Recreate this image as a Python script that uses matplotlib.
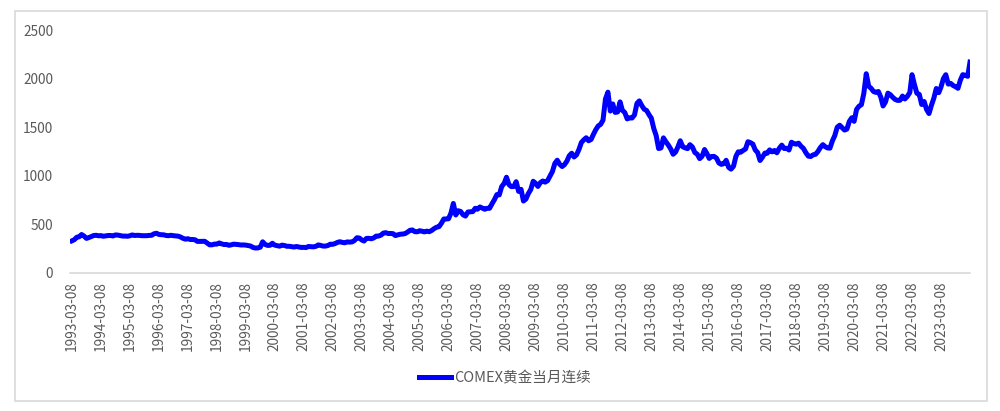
import pandas as pd
import matplotlib.pyplot as plt
import matplotlib.dates as mdates
from matplotlib.patches import Rectangle

plt.rcParams['font.family'] = ['Noto Sans CJK SC', 'DejaVu Sans']

SERIES_NAME = "COMEX黄金当月连续"
START = "1993-03-08"

# monthly COMEX gold, USD/oz (one value per month from 1993-03)
gold_1993 = [330, 342, 367, 372, 395, 379, 355, 364, 374, 385]
gold_1994 = [387, 382, 384, 377, 381, 385, 385, 380, 391, 389, 384, 379]
gold_1995 = [379, 377, 382, 391, 385, 387, 386, 383, 383, 383, 386, 387]
gold_1996 = [403, 408, 396, 393, 392, 385, 383, 387, 383, 381, 378, 369]
gold_1997 = [355, 347, 352, 344, 344, 341, 324, 324, 323, 325, 306, 289]
gold_1998 = [289, 297, 296, 308, 299, 292, 293, 284, 289, 296, 294, 291]
gold_1999 = [287, 288, 286, 282, 277, 262, 256, 257, 265, 320, 293, 283]
gold_2000 = [284, 305, 286, 280, 275, 286, 282, 274, 274, 270, 266, 272]
gold_2001 = [266, 262, 263, 261, 272, 270, 268, 273, 288, 283, 276, 276]
gold_2002 = [282, 296, 294, 302, 314, 321, 314, 310, 319, 317, 319, 333]
gold_2003 = [362, 359, 340, 328, 355, 356, 351, 360, 379, 379, 389, 410]
gold_2004 = [414, 405, 406, 404, 384, 392, 398, 400, 405, 420, 439, 442]
gold_2005 = [424, 423, 434, 429, 422, 430, 424, 437, 456, 470, 476, 510]
gold_2006 = [555, 555, 557, 615, 715, 596, 640, 632, 598, 585, 627, 629]
gold_2007 = [631, 665, 655, 679, 667, 655, 665, 665, 712, 754, 806, 803]
gold_2008 = [889, 922, 985, 909, 888, 889, 939, 839, 860, 740, 760, 816]
gold_2009 = [858, 943, 924, 890, 928, 946, 934, 949, 996, 1043, 1127, 1160]
gold_2010 = [1118, 1095, 1113, 1149, 1205, 1232, 1193, 1215, 1271, 1342, 1370, 1391]
gold_2011 = [1360, 1374, 1424, 1474, 1512, 1529, 1572, 1790, 1860, 1666, 1739, 1652]
gold_2012 = [1656, 1760, 1674, 1650, 1585, 1596, 1594, 1626, 1745, 1770, 1722, 1685]
gold_2013 = [1671, 1627, 1593, 1487, 1414, 1280, 1286, 1390, 1349, 1316, 1275, 1221]
gold_2014 = [1244, 1300, 1360, 1299, 1287, 1279, 1320, 1296, 1239, 1222, 1176, 1200]
gold_2015 = [1270, 1227, 1178, 1198, 1199, 1181, 1131, 1117, 1125, 1159, 1086, 1068]
gold_2016 = [1097, 1200, 1246, 1242, 1260, 1276, 1350, 1341, 1326, 1266, 1238, 1157]
gold_2017 = [1192, 1234, 1231, 1266, 1246, 1260, 1236, 1283, 1315, 1280, 1283, 1265]
gold_2018 = [1345, 1331, 1325, 1335, 1304, 1281, 1238, 1202, 1198, 1215, 1221, 1250]
gold_2019 = [1291, 1320, 1300, 1286, 1284, 1359, 1413, 1500, 1520, 1495, 1470, 1480]
gold_2020 = [1560, 1597, 1560, 1683, 1715, 1732, 1846, 2050, 1921, 1900, 1866, 1858]
gold_2021 = [1867, 1808, 1718, 1760, 1850, 1834, 1807, 1785, 1775, 1777, 1820, 1790]
gold_2022 = [1817, 1856, 2040, 1937, 1849, 1837, 1733, 1764, 1681, 1640, 1726, 1798]
gold_2023 = [1898, 1855, 1913, 2000, 2040, 1943, 1951, 1929, 1916, 1900, 1985, 2040]
gold_2024 = [2034, 2023, 2170]


def main():
    prices = (gold_1993 + gold_1994 + gold_1995 + gold_1996 + gold_1997 + gold_1998
              + gold_1999 + gold_2000 + gold_2001 + gold_2002 + gold_2003 + gold_2004
              + gold_2005 + gold_2006 + gold_2007 + gold_2008 + gold_2009 + gold_2010
              + gold_2011 + gold_2012 + gold_2013 + gold_2014 + gold_2015 + gold_2016
              + gold_2017 + gold_2018 + gold_2019 + gold_2020 + gold_2021 + gold_2022
              + gold_2023 + gold_2024)
    dates = pd.date_range("1993-03-01", periods=len(prices), freq="MS") + pd.Timedelta(days=7)

    fig = plt.figure(figsize=(10, 4.11), dpi=100)
    ax = fig.add_axes([0.07, 0.336, 0.90, 0.591])

    ax.plot(dates, prices, color="#0000ff", linewidth=3.6, solid_joinstyle="round",
            label=SERIES_NAME)

    ax.set_ylim(0, 2500)
    ax.set_yticks(range(0, 2501, 500))
    ax.set_xlim(pd.Timestamp("1993-02-12"), pd.Timestamp("2024-03-08"))

    tick_dates = pd.date_range(START, "2023-03-08", freq=pd.DateOffset(years=1))
    ax.set_xticks(tick_dates)
    ax.xaxis.set_major_formatter(mdates.DateFormatter("%Y-%m-%d"))

    for side in ["top", "right", "left"]:
        ax.spines[side].set_visible(False)
    ax.spines["bottom"].set_color("#d9d9d9")
    ax.spines["bottom"].set_linewidth(1.2)
    ax.tick_params(axis="both", length=0, colors="#595959", labelsize=9.8)
    ax.tick_params(axis="x", rotation=90, pad=6)
    ax.tick_params(axis="y", pad=12)

    # outer chart border
    fig.patches.append(Rectangle((0.015, 0.024), 0.972, 0.949, transform=fig.transFigure,
                                 fill=False, edgecolor="#d9d9d9", linewidth=1.2))

    fig.legend(loc="center", bbox_to_anchor=(0.505, 0.08), frameon=False,
               handlelength=2.2, handletextpad=0.2, fontsize=10.5, labelcolor="#595959")

    fig.savefig("out.png", dpi=100)


if __name__ == "__main__":
    main()
